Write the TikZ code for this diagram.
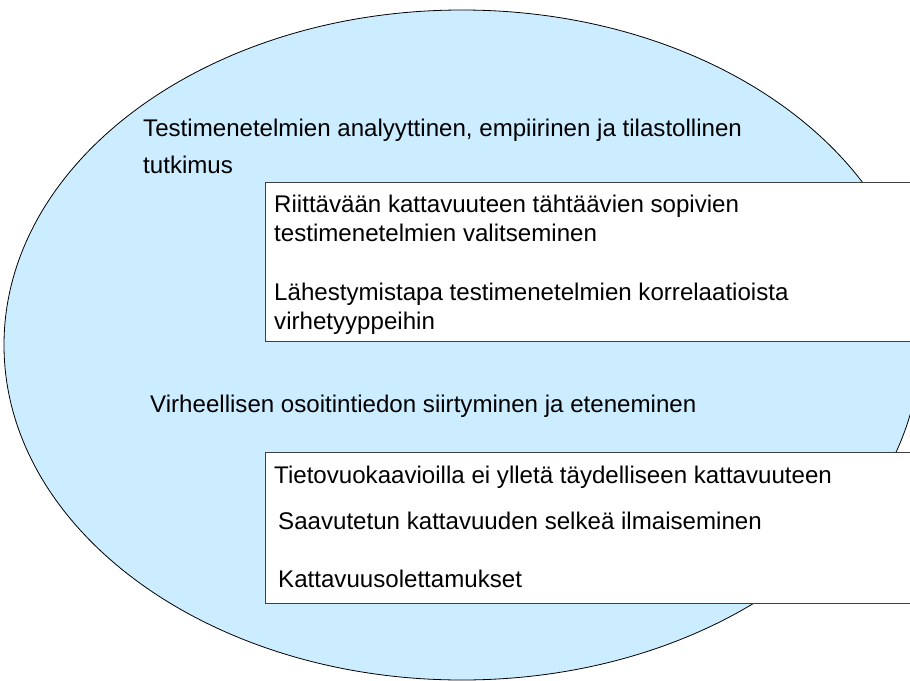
\documentclass[tikz,border=0pt]{standalone}
\usepackage{fontspec}
\setmainfont{Liberation Sans}
\definecolor{bubble}{HTML}{CCECFF}
\definecolor{frame}{HTML}{404040}
\begin{document}
\begin{tikzpicture}[x=1pt,y=-1pt,
  label/.style={anchor=base west,inner sep=0pt,font=\fontsize{24.1}{28}\selectfont},
  panel/.style={draw=frame,line width=1pt,fill=white,anchor=north west,inner sep=0pt}]
\useasboundingbox (0,0) rectangle (910,680);
\clip (0,0) rectangle (910,680);
\fill[white] (0,0) rectangle (910,680);
% background ellipse
\draw[fill=bubble,draw=black,line width=0.8pt] (462,345) ellipse [x radius=458,y radius=335];
% headings inside the ellipse
\node[label] (h1a) at (143,136) {Testimenetelmien analyyttinen, empiirinen ja tilastollinen};
\node[label] (h1b) at (143,173) {tutkimus};
\node[label] (h2) at (150,412) {Virheellisen osoitintiedon siirtyminen ja eteneminen};
% first panel
\node[panel,minimum width=700pt,minimum height=159pt] (p1) at (264.5,182) {};
\node[label] (p1a) at (274,212) {Riittävään kattavuuteen tähtäävien sopivien};
\node[label] (p1b) at (274,241) {testimenetelmien valitseminen};
\node[label] (p1c) at (274,300) {Lähestymistapa testimenetelmien korrelaatioista};
\node[label] (p1d) at (274,329) {virhetyyppeihin};
% second panel
\node[panel,minimum width=700pt,minimum height=151pt] (p2) at (264.5,452) {};
\node[label] (p2a) at (274,483) {Tietovuokaavioilla ei ylletä täydelliseen kattavuuteen};
\node[label] (p2b) at (278,529) {Saavutetun kattavuuden selkeä ilmaiseminen};
\node[label] (p2c) at (278,587) {Kattavuusolettamukset};
\end{tikzpicture}
\end{document}
